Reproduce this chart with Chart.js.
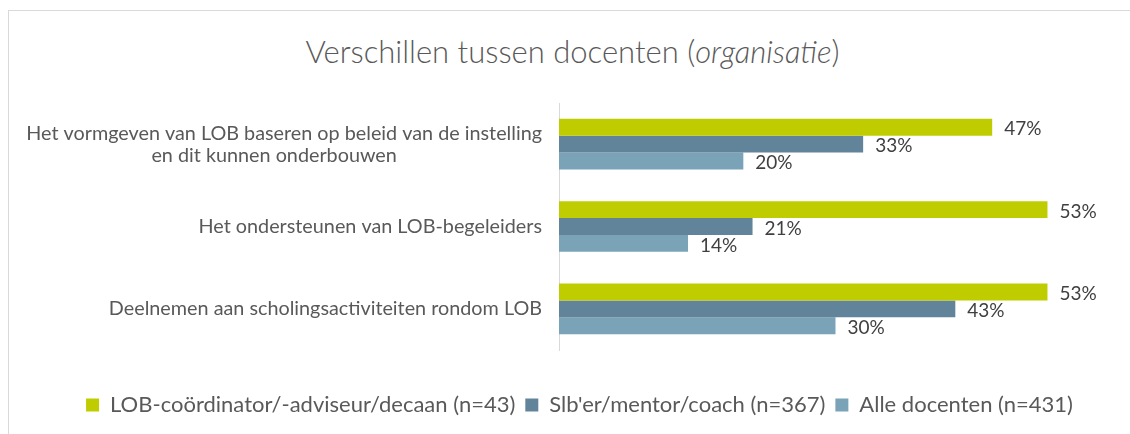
<!DOCTYPE html>
<html lang="nl">
<head>
    <meta charset="UTF-8">
    <title>Verschillen tussen docenten (organisatie)</title>
    <script src="https://cdn.jsdelivr.net/npm/chart.js"></script>
    <style>
        body {
            margin: 0;
            background-color: white;
            font-family: Lato, sans-serif;
            overflow: hidden;
        }

        #box {
            position: absolute;
            left: 8px;
            top: 10px;
            width: 1140px;
            height: 440px;
            border: 1px solid #d9d9d9;
        }

        #title {
            position: absolute;
            left: 0;
            top: 21px;
            width: 1127px;
            text-align: center;
            font-size: 31px;
            font-weight: 300;
            color: #595959;
        }

        #wrap {
            position: absolute;
            left: 0;
            top: 0;
            width: 1121px;
            height: 423px;
        }
    </style>
</head>
<body>
    <div id="box">
        <div id="title">Verschillen tussen docenten (<i>organisatie</i>)</div>
        <div id="wrap"><canvas id="orgChart"></canvas></div>
    </div>

    <script>
        // data
        const categories = [
            ['Het vormgeven van LOB baseren op beleid van de instelling', 'en dit kunnen onderbouwen'],
            ['Het ondersteunen van LOB-begeleiders'],
            ['Deelnemen aan scholingsactiviteiten rondom LOB']
        ];
        const seriesNames = [
            'LOB-coördinator/-adviseur/decaan (n=43)',
            "Slb'er/mentor/coach (n=367)",
            'Alle docenten (n=431)'
        ];
        const lobCoordinator = [0.47, 0.53, 0.53];
        const slbMentor = [0.33, 0.21, 0.43];
        const alleDocenten = [0.20, 0.14, 0.30];
        const colors = ['#bfcd00', '#62849a', '#7aa3b8'];

        const textColor = '#595959';
        const fontFamily = 'Lato, sans-serif';

        // value labels right of every bar
        const valueLabels = {
            id: 'valueLabels',
            afterDatasetsDraw(chart) {
                const ctx = chart.ctx;
                ctx.save();
                ctx.font = '19px ' + fontFamily;
                ctx.fillStyle = '#404040';
                ctx.textAlign = 'left';
                ctx.textBaseline = 'middle';
                chart.data.datasets.forEach((ds, i) => {
                    chart.getDatasetMeta(i).data.forEach((bar, j) => {
                        ctx.fillText(Math.round(ds.data[j] * 100) + '%', bar.x + 12, bar.y + 2);
                    });
                });
                ctx.restore();
            }
        };

        // category labels: block right aligned, lines centered inside it (like Excel)
        const categoryLabels = {
            id: 'categoryLabels',
            afterDraw(chart) {
                const ctx = chart.ctx;
                const y = chart.scales.y;
                const lineH = 22;
                ctx.save();
                ctx.font = '19.8px ' + fontFamily;
                ctx.fillStyle = textColor;
                ctx.textAlign = 'center';
                ctx.textBaseline = 'middle';
                chart.data.labels.forEach((lines, i) => {
                    const widest = Math.max(...lines.map(l => ctx.measureText(l).width));
                    const cx = y.right - 17 - widest / 2;
                    const top = y.getPixelForTick(i) - (lines.length - 1) * lineH / 2;
                    lines.forEach((l, k) => ctx.fillText(l, k ? cx - 10 : cx, top + k * lineH));
                });
                ctx.restore();
            }
        };

        const ctx = document.getElementById('orgChart').getContext('2d');
        new Chart(ctx, {
            type: 'bar',
            data: {
                labels: categories,
                datasets: [lobCoordinator, slbMentor, alleDocenten].map((d, i) => ({
                    label: seriesNames[i],
                    data: d,
                    backgroundColor: colors[i],
                    borderWidth: 0,
                    categoryPercentage: 0.615,
                    barPercentage: 1
                }))
            },
            options: {
                indexAxis: 'y',
                responsive: true,
                maintainAspectRatio: false,
                animation: false,
                // left padding keeps the legend centred where the original has it
                layout: { padding: { top: 92, right: 18, bottom: 8, left: 38 } },
                scales: {
                    x: {
                        min: 0,
                        max: 0.6,
                        grid: { display: false },
                        border: { display: false },
                        ticks: { display: false },
                        afterFit(scale) { scale.height = 34; }
                    },
                    y: {
                        grid: { display: false },
                        border: { display: true, color: '#d9d9d9', width: 1 },
                        ticks: { display: false },
                        afterFit(scale) { scale.width = 512; }
                    }
                },
                plugins: {
                    legend: {
                        position: 'bottom',
                        labels: {
                            font: { size: 22, family: fontFamily },
                            color: textColor,
                            boxWidth: 13,
                            boxHeight: 13,
                            padding: 10
                        }
                    },
                    tooltip: { enabled: false }
                }
            },
            plugins: [valueLabels, categoryLabels]
        });
    </script>
</body>
</html>
